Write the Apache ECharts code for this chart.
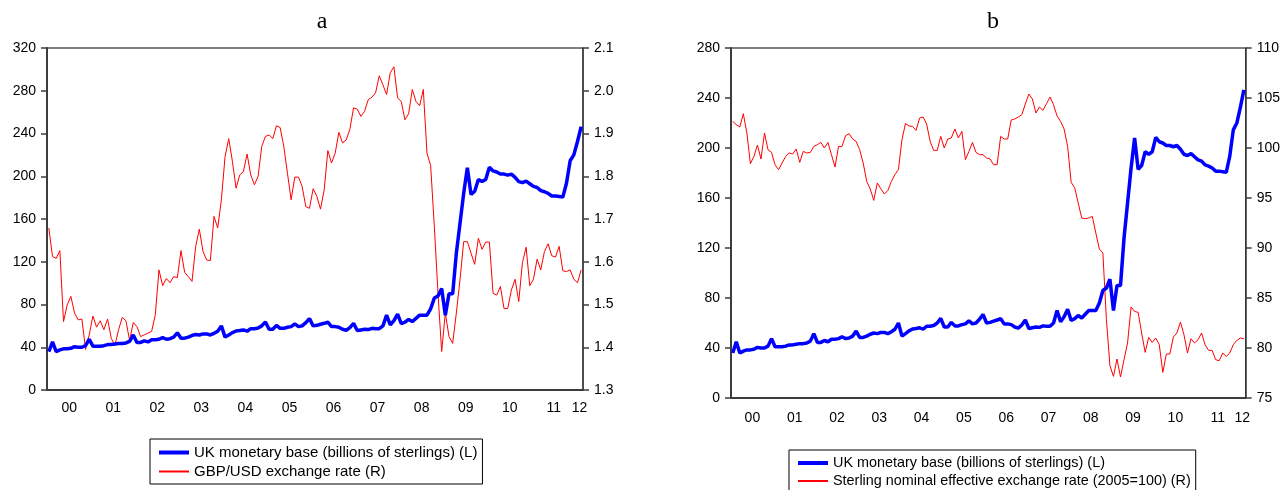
<!DOCTYPE html>
<html>
<head>
<meta charset="utf-8">
<script src="https://cdn.jsdelivr.net/npm/echarts@6/dist/echarts.min.js"></script>
<style>
    html, body { margin: 0; padding: 0; background: #fff; }
    #chart { width: 1283px; height: 490px; }
</style>
</head>
<body>
<div id="chart"></div>
<script>
    // UK monetary base, billions of sterlings, monthly 2000M01 - 2012M02
    var monetaryBase = [
        36, 45, 36, 37.5, 38.5, 38.5, 39, 40.5, 40, 40, 41.5, 47.5,
        41, 41, 41, 41.5, 42.5, 42.5, 43, 43.5, 43.5, 44, 45.5, 51.5,
        44.5, 44.5, 46, 45, 47, 47, 47.5, 49, 47.5, 48, 49.5, 53.5,
        48.5, 48.5, 49.5, 51, 52, 51.5, 52.5, 52.5, 51.5, 53, 55, 60,
        49.5, 51.5, 53.7, 55.2, 55.6, 56.2, 55, 57.4, 57.4, 58, 60, 63.7,
        56.8, 56.8, 60.5, 57.7, 57.7, 58.7, 59.3, 61.8, 59.3, 60, 63, 66.8,
        60, 60.5, 61.5, 62.4, 63.4, 59.3, 59.3, 58.7, 56.8, 55.9, 58.4, 62.4,
        55.6, 56.2, 56.8, 56.5, 57.7, 57.4, 57.4, 60, 70, 61, 65, 71,
        62, 63.5, 66, 64, 67, 70, 70, 70, 76, 86, 88, 95,
        70, 90, 90, 128, 156, 184, 208, 183, 186, 197, 195, 197,
        208.5, 205, 204, 202, 202, 201, 202, 199, 195, 194, 195.5, 193,
        190.5, 189.5, 186.5, 185.5, 184, 181.5, 181.5, 181, 180.5, 193.5, 214.5, 220,
        232.5, 246.5
    ];

    // GBP/USD exchange rate
    var gbpUsd = [
        1.679, 1.612, 1.608, 1.626, 1.460, 1.499, 1.519, 1.480, 1.464, 1.466, 1.395, 1.429,
        1.473, 1.447, 1.462, 1.441, 1.466, 1.421, 1.404, 1.441, 1.470, 1.462, 1.416, 1.458,
        1.448, 1.425, 1.429, 1.433, 1.437, 1.476, 1.581, 1.544, 1.561, 1.551, 1.565, 1.563,
        1.626, 1.575, 1.565, 1.554, 1.636, 1.676, 1.624, 1.604, 1.603, 1.706, 1.679, 1.745,
        1.846, 1.888, 1.835, 1.772, 1.803, 1.811, 1.852, 1.803, 1.780, 1.800, 1.870, 1.893,
        1.897, 1.888, 1.918, 1.914, 1.870, 1.807, 1.745, 1.798, 1.798, 1.776, 1.729, 1.725,
        1.771, 1.753, 1.723, 1.768, 1.860, 1.831, 1.854, 1.903, 1.878, 1.885, 1.910, 1.960,
        1.957, 1.940, 1.952, 1.979, 1.985, 1.995, 2.035, 2.014, 1.991, 2.042, 2.056, 1.983,
        1.975, 1.932, 1.946, 2.003, 1.975, 1.965, 2.003, 1.854, 1.825, 1.683, 1.526, 1.390,
        1.480, 1.425, 1.409, 1.480, 1.558, 1.647, 1.647, 1.620, 1.594, 1.655, 1.629, 1.646,
        1.646, 1.526, 1.522, 1.542, 1.490, 1.491, 1.534, 1.559, 1.507, 1.598, 1.634, 1.544,
        1.559, 1.606, 1.581, 1.624, 1.642, 1.614, 1.611, 1.636, 1.579, 1.577, 1.581, 1.559,
        1.551, 1.581
    ];

    // Sterling nominal effective exchange rate (2005=100)
    var sterlingNeer = [
        102.66, 102.33, 102.1, 103.43, 101.5, 98.43, 99.16, 100.3, 98.9, 101.5, 99.83, 99.56,
        98.33, 97.83, 98.5, 99.16, 99.5, 99.4, 99.9, 98.56, 99.66, 99.5, 99.56, 100.16,
        100.33, 100.56, 100, 100.56, 99.33, 98.1, 100.16, 100.16, 101.23, 101.43, 100.9, 100.66,
        99.83, 98.5, 96.66, 95.9, 94.76, 96.5, 95.93, 95.4, 95.76, 96.66, 97.33, 97.85,
        100.83, 102.45, 102.2, 102.16, 101.76, 103, 103.1, 102.4, 100.66, 99.76, 99.76, 101.16,
        100, 100.9, 101, 101.9, 101, 101.66, 98.83, 99.66, 100.56, 99.56, 99.33, 99.33,
        99, 98.9, 98.33, 98.33, 101.16, 100.9, 100.9, 102.8, 102.9, 103.1, 103.33, 104.4,
        105.4, 104.9, 103.5, 104.1, 103.76, 104.43, 105.1, 104.33, 103.2, 102.66, 101.9, 100.16,
        96.56, 96.03, 94.5, 93, 92.93, 93, 93.16, 91.5, 89.9, 89.5, 82.83, 78.23,
        77.16, 78.9, 77.1, 78.83, 80.5, 84.1, 83.66, 83.56, 81.5, 79.56, 81.06, 80.56,
        81, 80.33, 77.56, 79.4, 79.4, 81.1, 81.5, 82.6, 81.33, 79.5, 80.93, 80.5,
        80.83, 81.5, 80.33, 79.76, 79.76, 78.83, 78.73, 79.5, 79.16, 79.5, 80.33, 80.76,
        81, 80.93
    ];

    var yearLabels = ["00", "01", "02", "03", "04", "05", "06", "07", "08", "09", "10", "11", "12"];

    var baseName = "UK monetary base (billions of sterlings) (L)";
    var gbpName = "GBP/USD exchange rate (R)";
    var neerName = "Sterling nominal effective exchange rate (2005=100) (R)";

    var months = [];
    for (var y = 2000; y <= 2012; y++) {
        for (var m = 1; m <= 12; m++) {
            if (months.length < monetaryBase.length) {
                months.push(y + "-" + (m < 10 ? "0" + m : m));
            }
        }
    }

    var font = "Liberation Sans, Arial, sans-serif";
    var axisColor = "#3c3c3c";

    // two stacked x axes per panel: one for year ticks + labels, one for quarter ticks
    function makeXAxes(grid, labelMargin) {
        return [
            {
                type: "category",
                gridIndex: grid,
                data: months,
                boundaryGap: true,
                axisLine: { onZero: false, lineStyle: { color: axisColor, width: 2 } },
                axisTick: {
                    interval: function (i) { return i % 12 === 0; },
                    length: 8,
                    lineStyle: { color: axisColor, width: 1.5 }
                },
                axisLabel: {
                    interval: function (i) { return i % 12 === 5 || i === 144; },
                    formatter: function (v) { return yearLabels[+v.slice(0, 4) - 2000]; },
                    margin: labelMargin,
                    padding: [0, 0, 0, 4],
                    color: "#000",
                    fontSize: 14,
                    fontFamily: font
                },
                splitLine: { show: false }
            },
            {
                type: "category",
                gridIndex: grid,
                data: months,
                boundaryGap: true,
                axisLine: { show: false, onZero: false },
                axisTick: {
                    interval: function (i) { return i % 3 === 0; },
                    length: 4,
                    lineStyle: { color: axisColor, width: 1.5 }
                },
                axisLabel: { show: false },
                splitLine: { show: false }
            }
        ];
    }

    function makeYAxis(grid, pos, min, max, step, digits) {
        return {
            type: "value",
            gridIndex: grid,
            position: pos,
            min: min,
            max: max,
            interval: step,
            splitLine: { show: false },
            axisLine: { show: true, lineStyle: { color: axisColor, width: pos === "left" ? 2 : 1.5 } },
            axisTick: { show: true, length: 6, lineStyle: { color: axisColor, width: 1.5 } },
            axisLabel: {
                margin: 11,
                color: "#000",
                fontSize: 14,
                fontFamily: font,
                formatter: function (v) { return v.toFixed(digits); }
            }
        };
    }

    function line(name, xi, yi, data, color, width) {
        return {
            name: name,
            type: "line",
            xAxisIndex: xi,
            yAxisIndex: yi,
            data: data,
            symbol: "none",
            lineStyle: { color: color, width: width },
            itemStyle: { color: color },
            z: color === "#0000ff" ? 3 : 2
        };
    }

    function legendBox(left, top, redName, fontSize) {
        return {
            left: left,
            top: top,
            height: 120, // keep both rows in one column even if the box runs past the bottom
            orient: "vertical",
            data: [
                { name: baseName, lineStyle: { width: 4 } },
                { name: redName }
            ],
            selectedMode: false,
            borderColor: "#000",
            borderWidth: 1,
            borderRadius: 0,
            padding: [6, 5, 5, 7],
            itemGap: 4,
            itemWidth: 30,
            itemHeight: 14,
            itemStyle: { opacity: 0 }, // no marker, only the line sample
            textStyle: { fontSize: fontSize, fontFamily: font, color: "#000" }
        };
    }

    var myChart = echarts.init(document.getElementById("chart"));

    var option = {
        animation: false,
        backgroundColor: "#fff",
        grid: [
            { left: 47, top: 48, width: 536, height: 342, show: true, borderColor: "#000", borderWidth: 1, backgroundColor: "#fff" },
            { left: 731, top: 48, width: 517, height: 350, show: true, borderColor: "#000", borderWidth: 1, backgroundColor: "#fff" }
        ],
        xAxis: makeXAxes(0, 11).concat(makeXAxes(1, 13)),
        yAxis: [
            makeYAxis(0, "left", 0, 320, 40, 0),
            makeYAxis(0, "right", 1.3, 2.1, 0.1, 1),
            makeYAxis(1, "left", 0, 280, 40, 0),
            makeYAxis(1, "right", 75, 110, 5, 0)
        ],
        legend: [
            legendBox(150, 439, gbpName, 15),
            legendBox(789, 450, neerName, 14.4)
        ],
        graphic: [
            { type: "text", x: 322, y: 10, style: { text: "a", font: "24px Liberation Serif, Times New Roman, serif", fill: "#000", textAlign: "center" } },
            { type: "text", x: 993, y: 10, style: { text: "b", font: "24px Liberation Serif, Times New Roman, serif", fill: "#000", textAlign: "center" } }
        ],
        series: [
            line(gbpName, 0, 1, gbpUsd, "#ff0000", 1),
            line(baseName, 0, 0, monetaryBase, "#0000ff", 3.5),
            line(neerName, 2, 3, sterlingNeer, "#ff0000", 1),
            line(baseName, 2, 2, monetaryBase, "#0000ff", 3.5)
        ]
    };

    option && myChart.setOption(option);
</script>
</body>
</html>
